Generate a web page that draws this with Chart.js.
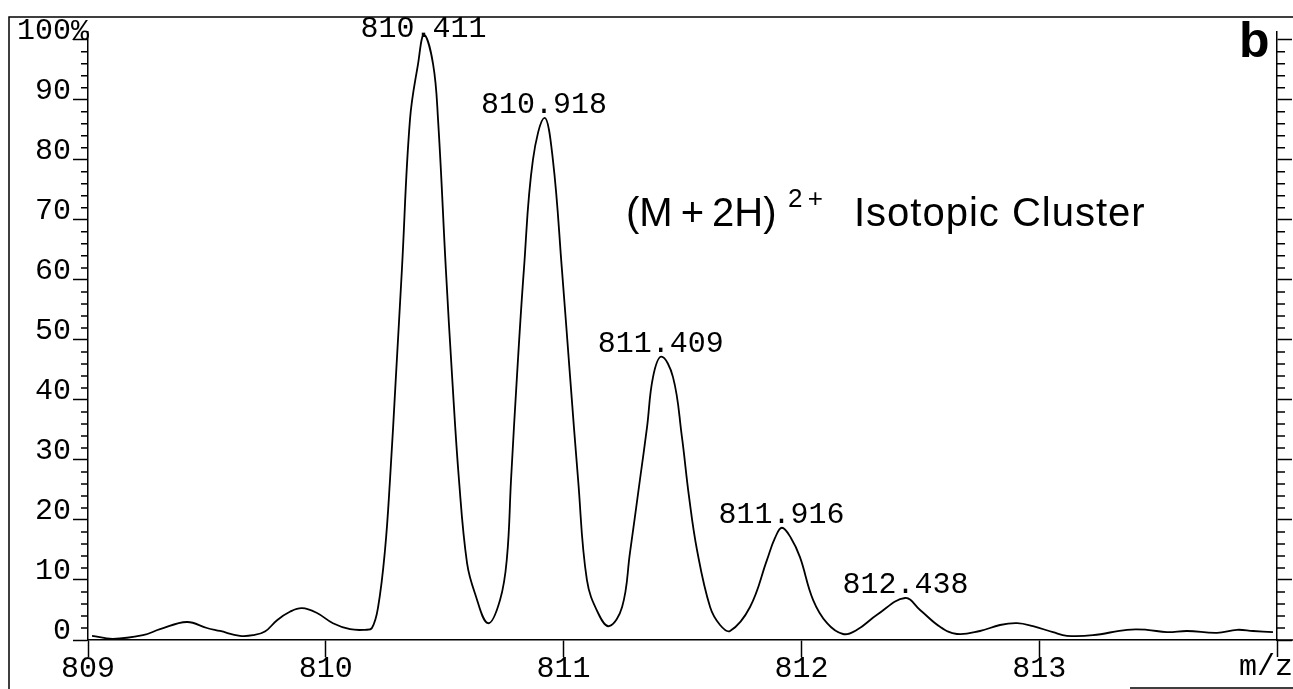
<!DOCTYPE html>
<html>
<head>
<meta charset="utf-8">
<script src="https://cdn.jsdelivr.net/npm/chart.js@4.4.1/dist/chart.umd.min.js"></script>
<style>
  body { margin: 0; background: #fff; }
  #wrap { width: 1293px; height: 689px; }
</style>
</head>
<body>
<div id="wrap"><canvas id="spec"></canvas></div>
<script>
// profile trace, m/z vs relative intensity (%)
const mzValues = [809.017, 809.105, 809.231, 809.303, 809.416, 809.500, 809.555, 809.639, 809.694, 809.744,
  809.795, 809.849, 809.900, 809.963, 810.030, 810.102, 810.165, 810.194, 810.220, 810.249,
  810.270, 810.295, 810.320, 810.354, 810.388, 810.413, 810.451, 810.472, 810.505, 810.531,
  810.560, 810.594, 810.627, 810.682, 810.733, 810.762, 810.779, 810.804, 810.833, 810.871,
  810.920, 810.955, 810.993, 811.027, 811.061, 811.098, 811.145, 811.191, 811.246, 811.279,
  811.321, 811.351, 811.376, 811.411, 811.460, 811.497, 811.527, 811.561, 811.616, 811.658,
  811.700, 811.784, 811.855, 811.889, 811.918, 811.956, 811.994, 812.049, 812.108, 812.175,
  812.234, 812.318, 812.436, 812.499, 812.583, 812.654, 812.751, 812.835, 812.907, 812.974,
  813.058, 813.117, 813.226, 813.369, 813.453, 813.537, 813.622, 813.748, 813.832, 813.899, 813.983];
const intensities = [0.7, 0.2, 0.8, 1.8, 3.0, 2.0, 1.5, 0.7, 0.8, 1.4,
  3.3, 4.7, 5.3, 4.5, 2.8, 1.8, 1.7, 2.0, 5.5, 15,
  26.7, 44, 61.7, 86.7, 96, 100.8, 96, 86.7, 61.7, 44,
  26.7, 12.8, 7.8, 2.8, 6.7, 13.8, 26.7, 44, 61.7, 80,
  87, 80, 61.7, 44, 26.7, 10, 4.5, 2.3, 5.5, 14.5,
  26.7, 35.5, 43.8, 47.2, 43.8, 34, 24, 15, 5.5, 2.5,
  1.5, 5.5, 13.3, 17, 18.7, 17, 13.8, 6.7, 2.8, 1.0,
  1.7, 4.2, 7.0, 5, 2.2, 1.0, 1.5, 2.5, 2.8, 2.3,
  1.3, 0.7, 0.8, 1.7, 1.7, 1.3, 1.5, 1.2, 1.7, 1.5, 1.3];

// labelled centroids
const peakMz = [810.411, 810.918, 811.409, 811.916, 812.438];
const peakTop = [100.8, 87.0, 47.2, 18.7, 7.0];

const xTickValues = [809, 810, 811, 812, 813, 814];
const yMajorTicks = [0, 10, 20, 30, 40, 50, 60, 70, 80, 90, 100];

const MONO = '"Liberation Mono", "Courier New", monospace';
const SANS = '"Liberation Sans", Arial, sans-serif';

const extras = {
  id: "extras",
  afterDraw(chart) {
    const ctx = chart.ctx;
    const x = chart.scales.x, y = chart.scales.y;
    const area = chart.chartArea;
    ctx.save();
    ctx.strokeStyle = "#000";
    ctx.fillStyle = "#000";
    ctx.lineWidth = 1.5;
    ctx.beginPath();
    // panel frame
    ctx.moveTo(9, 689); ctx.lineTo(9, 17); ctx.lineTo(1293, 17);
    ctx.moveTo(1130, 688); ctx.lineTo(1293, 688);
    // baseline runs past the right axis
    ctx.moveTo(area.right, area.bottom); ctx.lineTo(1293, area.bottom);
    // minor ticks every 2 %
    for (let v = 2; v < 101; v += 2) {
      if (v % 10 === 0) continue;
      const py = y.getPixelForValue(v);
      ctx.moveTo(area.left - 7, py); ctx.lineTo(area.left, py);
      ctx.moveTo(area.right, py); ctx.lineTo(area.right + 8, py);
    }
    ctx.stroke();

    // peak labels
    ctx.font = "30px " + MONO;
    ctx.textAlign = "center";
    ctx.textBaseline = "alphabetic";
    peakMz.forEach((m, i) => {
      const px = x.getPixelForValue(m);
      const py = Math.max(y.getPixelForValue(peakTop[i]) - 5, 37);
      ctx.fillText(m.toFixed(3), px, py);
    });

    ctx.textAlign = "left";
    ctx.fillText("%", 71, y.getPixelForValue(100));
    ctx.textAlign = "right";
    ctx.fillText("m/z", 1293, 675);

    // panel letter
    ctx.textAlign = "left";
    ctx.font = "bold 50px " + SANS;
    ctx.fillText("b", 1239, 57);

    // annotation
    ctx.font = "40px " + SANS;
    ctx.fillText("(M\u2009+\u20092H)", 626, 226);
    ctx.font = "26px " + SANS;
    ctx.fillText("2\u2009+", 788, 207);
    ctx.font = "40px " + SANS;
    ctx.letterSpacing = "1px";
    ctx.fillText("Isotopic Cluster", 854, 226);
    ctx.restore();
  }
};

const specCtx = document.getElementById("spec").getContext("2d");

const spectrum = new Chart(specCtx, {
  type: "line",
  data: {
    datasets: [{
      data: mzValues.map((m, i) => ({ x: m, y: intensities[i] })),
      borderColor: "#000",
      borderWidth: 1.8,
      pointRadius: 0,
      fill: false,
      tension: 0.4
    }]
  },
  options: {
    responsive: true,
    maintainAspectRatio: false,
    animation: false,
    layout: { padding: { top: 32, left: 0, right: 0, bottom: 0 } },
    plugins: { legend: { display: false }, tooltip: { enabled: false } },
    scales: {
      x: {
        type: "linear",
        position: "bottom",
        min: 809,
        max: 814,
        afterBuildTicks: s => { s.ticks = xTickValues.map(v => ({ value: v })); },
        afterFit: s => { s.height = 49; },
        ticks: {
          color: "#000",
          font: { family: MONO, size: 30 },
          padding: -6,
          maxRotation: 0,
          callback: v => (v < 814 ? String(v) : "")
        },
        grid: { drawOnChartArea: false, tickLength: 17, color: "#000", tickWidth: 1.5 },
        border: { color: "#000", width: 1.5 }
      },
      y: {
        position: "left",
        min: 0,
        max: 101.3,
        afterBuildTicks: s => { s.ticks = yMajorTicks.map(v => ({ value: v })); },
        afterFit: s => { s.width = 88; },
        ticks: {
          color: "#000",
          font: { family: MONO, size: 30 },
          padding: 2,
          labelOffset: -9
        },
        grid: { drawOnChartArea: false, tickLength: 15, color: "#000", tickWidth: 1.5 },
        border: { color: "#000", width: 1.5 }
      },
      y2: {
        position: "right",
        min: 0,
        max: 101.3,
        afterBuildTicks: s => { s.ticks = yMajorTicks.map(v => ({ value: v })); },
        afterFit: s => { s.width = 16; },
        ticks: { display: false },
        grid: { drawOnChartArea: false, tickLength: 15, color: "#000", tickWidth: 1.5 },
        border: { color: "#000", width: 1.5 }
      }
    }
  },
  plugins: [extras]
});
</script>
</body>
</html>
